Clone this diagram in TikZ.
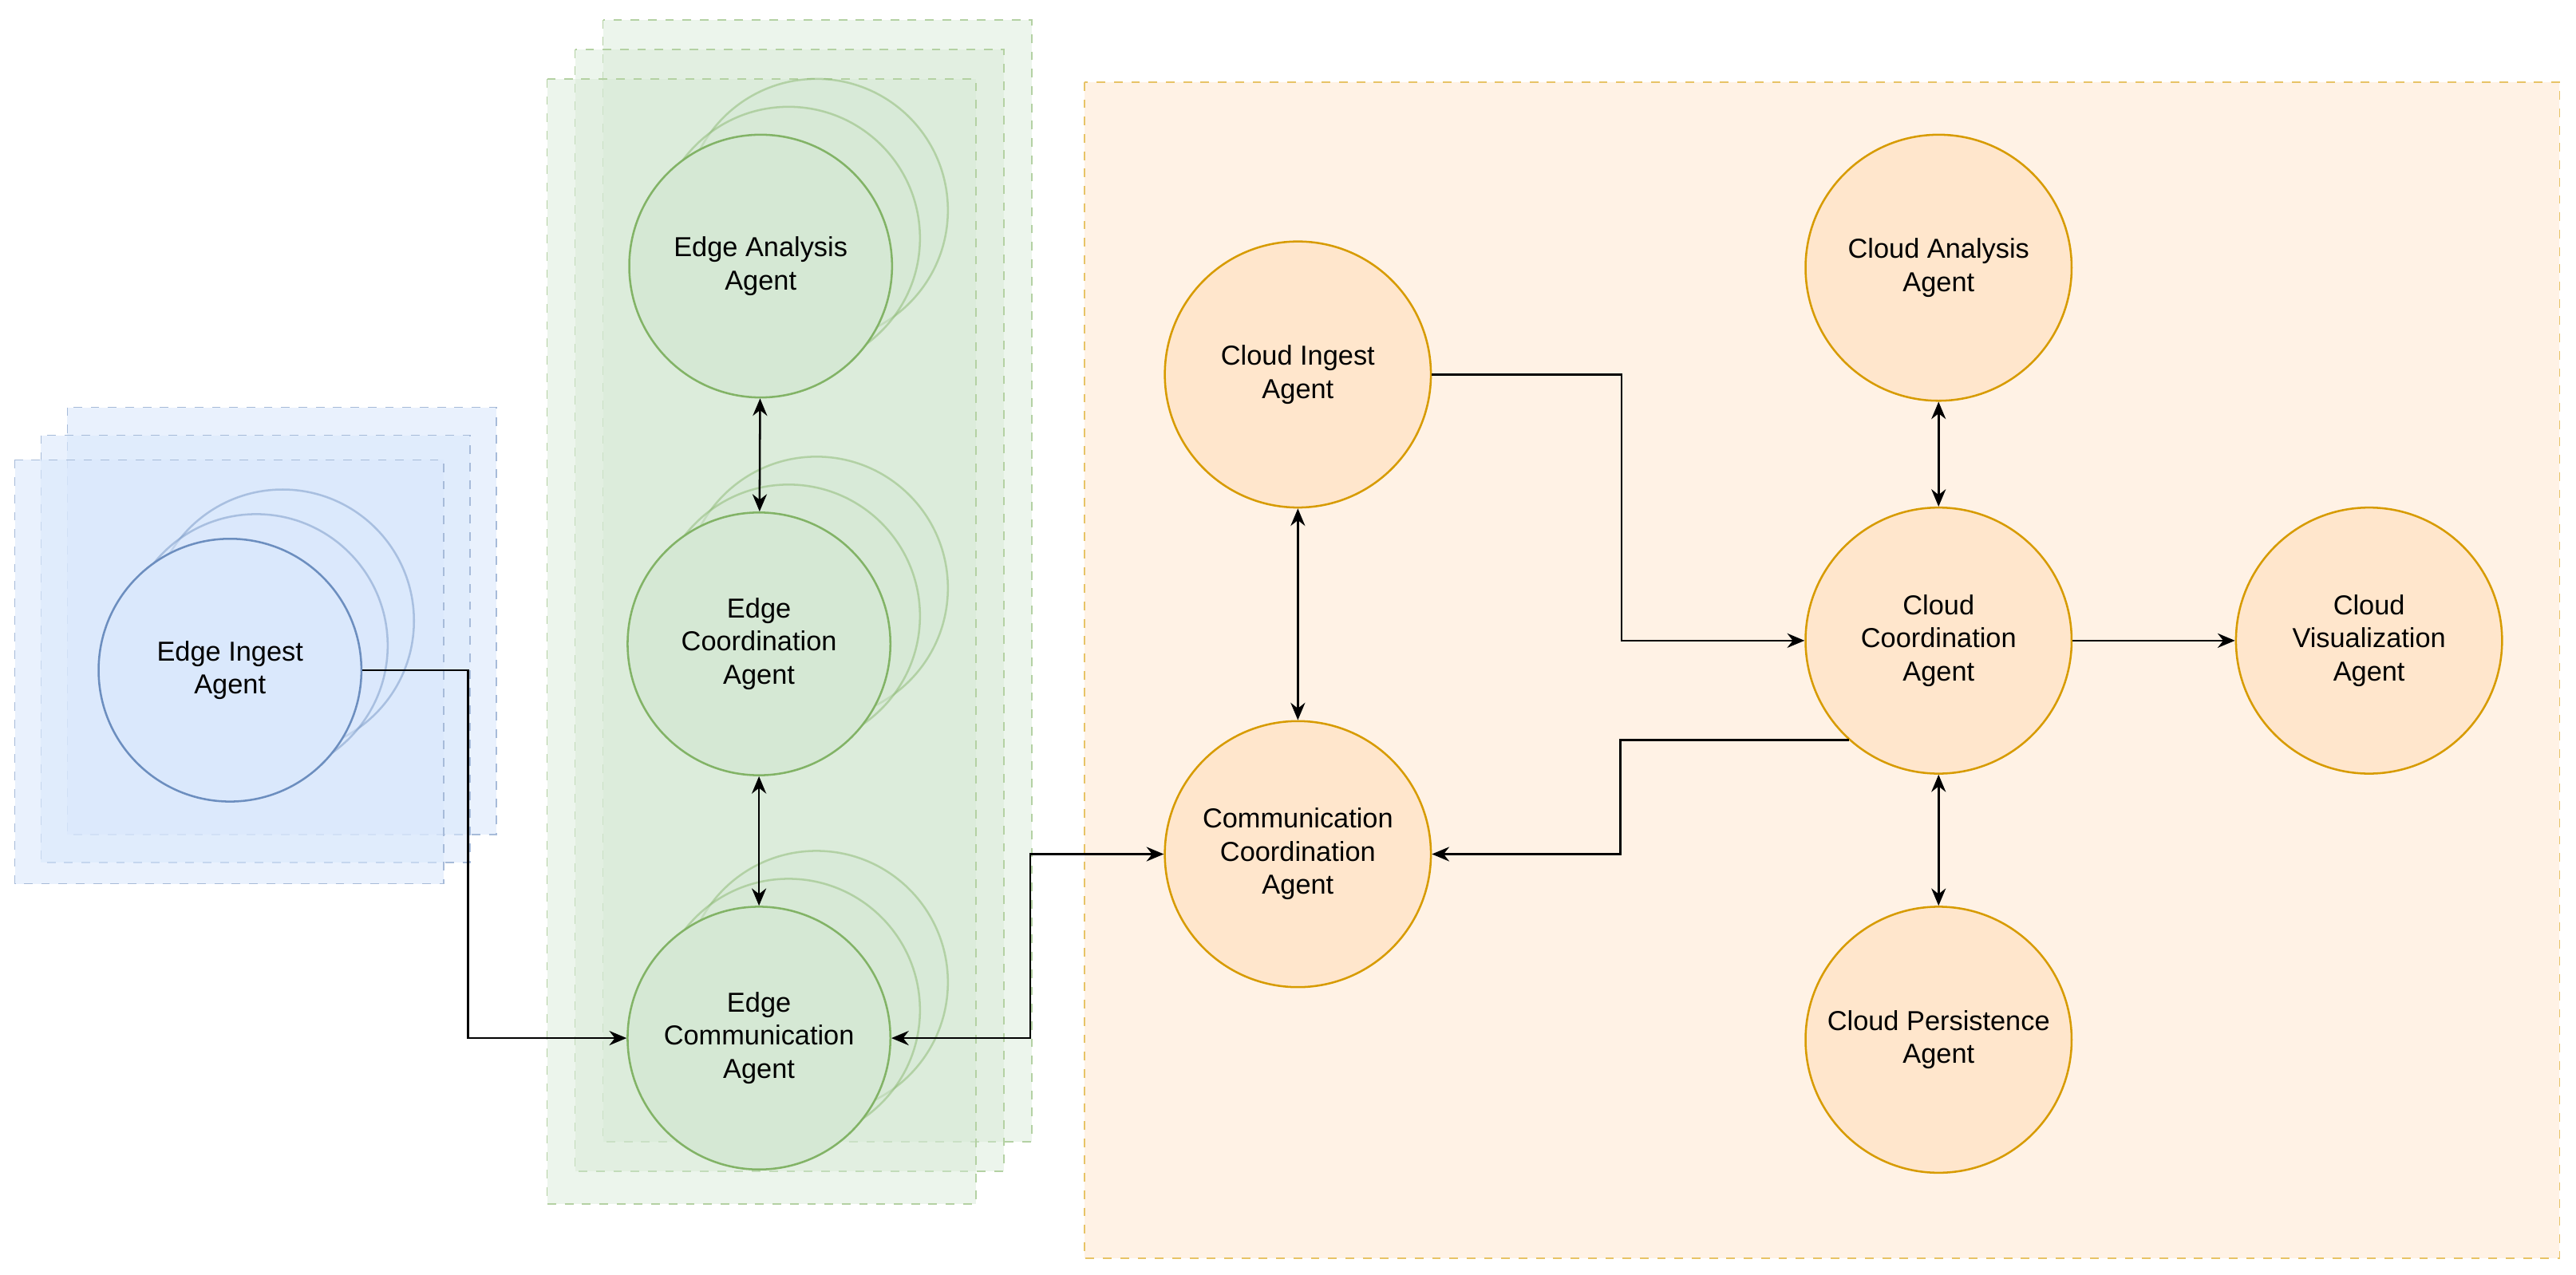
\documentclass[tikz,border=0pt]{standalone}
\usepackage{fontspec}
\setmainfont{Liberation Sans}
\usetikzlibrary{arrows.meta}
\definecolor{bfill}{HTML}{DAE8FC}\definecolor{bline}{HTML}{6C8EBF}
\definecolor{gfill}{HTML}{D5E8D4}\definecolor{gline}{HTML}{82B366}
\definecolor{ofill}{HTML}{FFE6CC}\definecolor{oline}{HTML}{D79B00}
\begin{document}
\begin{tikzpicture}[x=0.02cm,y=-0.02cm,
  txt/.style={font=\fontsize{9.5pt}{11.5pt}\selectfont,align=center},
  ag/.style={circle,txt,minimum size=3.2cm,inner sep=0pt,line width=0.7pt},
  bag/.style={ag,draw=bline,fill=bfill},
  gag/.style={ag,draw=gline,fill=gfill},
  oag/.style={ag,draw=oline,fill=ofill,minimum size=3.24cm},
  back/.style={draw opacity=0.45,fill opacity=0.5},
  reg/.style={dashed,line width=0.5pt},
  arr/.style={-{Stealth[length=6pt,width=5pt]},line width=0.7pt},
  barr/.style={{Stealth[length=6pt,width=5pt]}-{Stealth[length=6pt,width=5pt]},line width=0.7pt}]
\useasboundingbox (0,0) rectangle (1568,776);
% blue stack
\foreach \a/\b/\c/\d in {41/248/302/508,25/265/286/525,9/280/270/538}
  \draw[reg,draw=bline!60,fill=bfill,fill opacity=0.6] (\a,\b) rectangle (\c,\d);
\node[bag,back] (ib2) at (172,378) {};
\node[bag,back] (ib1) at (156,393) {};
\node[bag] (ei) at (140,408) {Edge Ingest\\Agent};
% green stack
\foreach \a/\b/\c/\d in {367/12/628/695,350/30/611/713,333/48/594/733}
  \draw[reg,draw=gline!60,fill=gfill,fill opacity=0.45] (\a,\b) rectangle (\c,\d);
\node[gag,back] (ea2) at (497,128) {};
\node[gag,back] (ea1) at (480,145) {};
\node[gag] (ea) at (463,162) {Edge Analysis\\Agent};
\node[gag,back] (ec2) at (497,358) {};
\node[gag,back] (ec1) at (480,375) {};
\node[gag] (ec) at (462,392) {Edge\\Coordination\\Agent};
\node[gag,back] (em2) at (497,598) {};
\node[gag,back] (em1) at (480,615) {};
\node[gag] (em) at (462,632) {Edge\\Communication\\Agent};
% orange region
\draw[reg,draw=oline!60,fill=ofill,fill opacity=0.5] (660,50) rectangle (1558,766);
\node[oag] (ci) at (790,228) {Cloud Ingest\\Agent};
\node[oag] (cc) at (790,520) {Communication\\Coordination\\Agent};
\node[oag] (ca) at (1180,163) {Cloud Analysis\\Agent};
\node[oag] (co) at (1180,390) {Cloud\\Coordination\\Agent};
\node[oag] (cv) at (1442,390) {Cloud\\Visualization\\Agent};
\node[oag] (cp) at (1180,633) {Cloud Persistence\\Agent};
% connectors
\draw[arr] (ei.east) -- (285,408) |- (em.west);
\draw[barr] (ea) -- (ec);
\draw[barr] (ec) -- (em);
\draw[barr] (em.east) -- (627,632) |- (cc.west);
\draw[barr] (ci) -- (cc);
\draw[arr] (ci.east) -- (987,228) |- (co.west);
\draw[arr] (co.228) -- ++(-139,0) |- (cc.east);
\draw[barr] (ca) -- (co);
\draw[arr] (co) -- (cv);
\draw[barr] (co) -- (cp);
\end{tikzpicture}
\end{document}
